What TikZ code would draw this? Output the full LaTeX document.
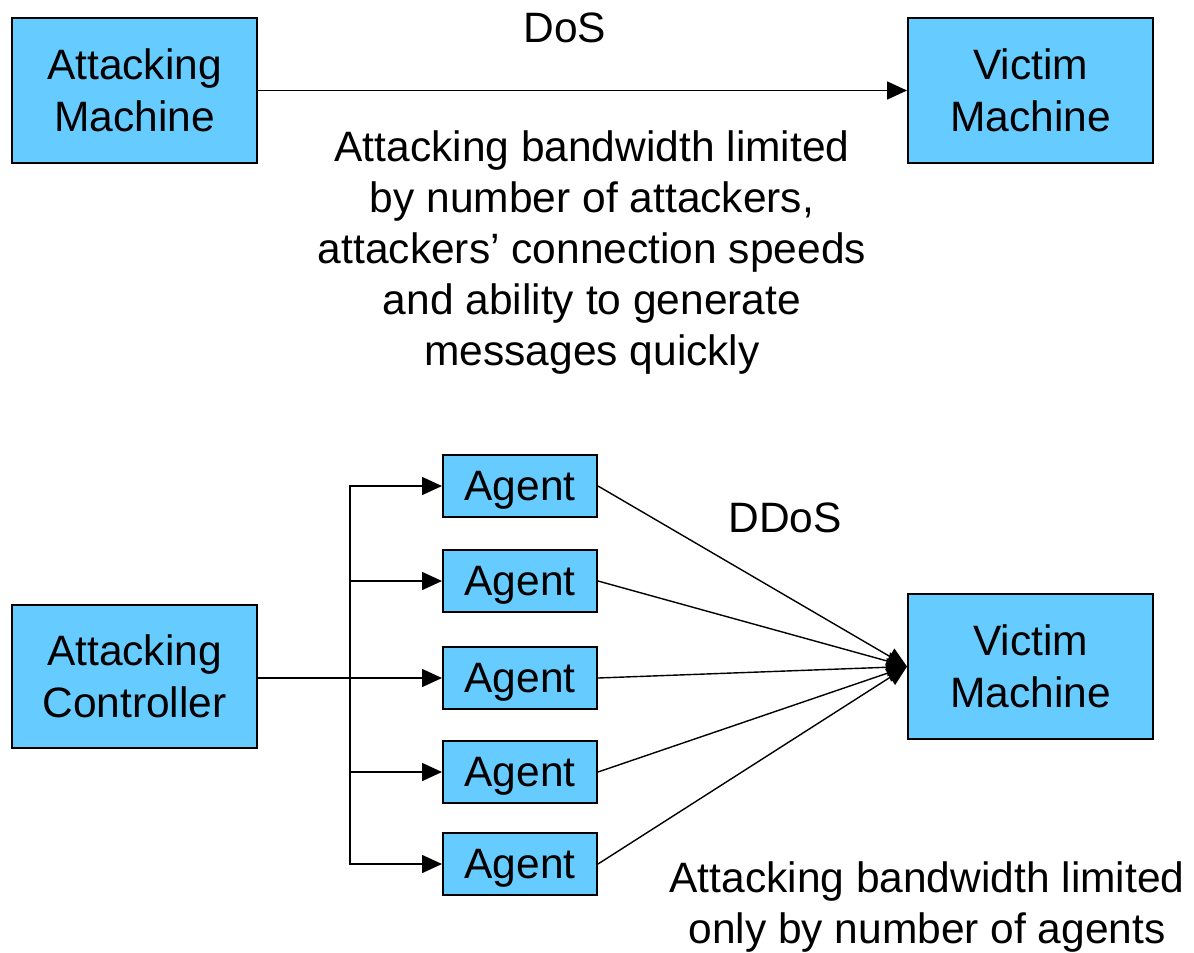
\documentclass[tikz,border=0pt]{standalone}
\usepackage{fontspec}
\setmainfont{Liberation Sans}
\usetikzlibrary{arrows.meta}
\definecolor{boxblue}{RGB}{102,204,255}
\begin{document}
\begin{tikzpicture}[x=1pt,y=-1pt,
  box/.style={draw=black, line width=2pt, fill=boxblue, align=center,
    inner sep=0pt, font=\fontsize{42.5}{52}\selectfont},
  bigbox/.style={box, minimum width=245pt, minimum height=145pt},
  agentbox/.style={box, minimum width=154pt, minimum height=62pt, text depth=0pt},
  label/.style={align=center, inner sep=0pt, font=\fontsize{42.5}{51}\selectfont},
  conn/.style={draw=black, line width=1.6pt, -{Triangle[length=20pt,width=18pt]}},
  feed/.style={draw=black, line width=1.4pt, -{Triangle[length=20pt,width=18pt]}}]
\useasboundingbox (0,0) rectangle (1194,953);

% DoS: single attacker against the victim
\node[bigbox] (am) at (134.5,90.5) {Attacking\\Machine};
\node[bigbox] (vm1) at (1030.5,90.5) {Victim\\Machine};
\draw[conn] (am.east) -- (vm1.west);
\node[label] (dos) at (565,28) {DoS};
\node[label] (dosnote) at (592,253) {Attacking bandwidth limited\\by number of attackers,\\attackers’ connection speeds\\and ability to generate\\messages quickly};

% DDoS: controller, agents and victim
\node[bigbox, minimum height=143pt] (ac) at (134.5,676.5) {Attacking\\Controller};
\node[bigbox] (vm2) at (1030.5,666.5) {Victim\\Machine};
\node[agentbox] (ag1) at (520,486) {Agent};
\node[agentbox] (ag2) at (520,581) {Agent};
\node[agentbox] (ag3) at (520,678) {Agent};
\node[agentbox] (ag4) at (520,772) {Agent};
\node[agentbox] (ag5) at (520,864) {Agent};
\coordinate (bus) at (350,678);

\foreach \a in {ag1,ag2,ag3,ag4,ag5}{
  \draw[conn] (ac.east |- bus) -- (bus) |- (\a.west);
  \draw[feed] (\a.east) -- (vm2.west);
}

\node[label] (ddos) at (785,518) {DDoS};
\node[label] (ddosnote) at (927,907) {Attacking bandwidth limited\\only by number of agents};
\end{tikzpicture}
\end{document}
